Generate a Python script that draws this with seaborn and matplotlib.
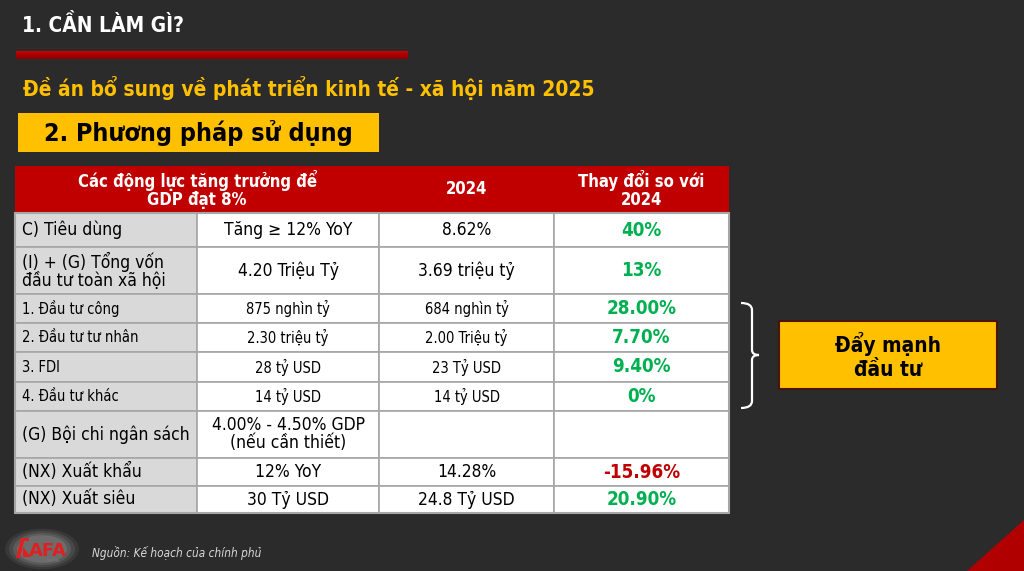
import numpy as np
import matplotlib
matplotlib.use("Agg")
import matplotlib.pyplot as plt
import seaborn as sns
from matplotlib.patches import Rectangle, Polygon, Ellipse
from matplotlib.path import Path
from matplotlib.patches import PathPatch

# dữ liệu bảng
drivers = ["C) Tiêu dùng", "(I) + (G) Tổng vốn\nđầu tư toàn xã hội", "1. Đầu tư công",
           "2. Đầu tư tư nhân", "3. FDI", "4. Đầu tư khác", "(G) Bội chi ngân sách",
           "(NX) Xuất khẩu", "(NX) Xuất siêu"]
targets = ["Tăng ≥ 12% YoY", "4.20 Triệu Tỷ", "875 nghìn tỷ", "2.30 triệu tỷ", "28 tỷ USD",
           "14 tỷ USD", "4.00% - 4.50% GDP\n(nếu cần thiết)", "12% YoY", "30 Tỷ USD"]
values_2024 = ["8.62%", "3.69 triệu tỷ", "684 nghìn tỷ", "2.00 Triệu tỷ", "23 Tỷ USD",
               "14 tỷ USD", "", "14.28%", "24.8 Tỷ USD"]
changes = [40, 13, 28.00, 7.70, 9.40, 0, None, -15.96, 20.90]
change_labels = ["40%", "13%", "28.00%", "7.70%", "9.40%", "0%", "", "-15.96%", "20.90%"]
headers = ["Các động lực tăng trưởng để\nGDP đạt 8%", "2024", "Thay đổi so với\n2024"]
small_rows = [2, 3, 4, 5]

sns.set_theme(style="dark")
plt.rcParams['font.family'] = ['DejaVu Sans']
plt.rcParams['font.stretch'] = 'condensed'

BG = "#2b2b2b"
RED = "#c00000"
YELLOW = "#ffc000"
GREEN = "#00b050"

fig = plt.figure(figsize=(10.24, 5.71), dpi=100, facecolor=BG)
ax = fig.add_axes([0, 0, 1, 1])
ax.set_xlim(0, 1024)
ax.set_ylim(571, 0)
ax.set_facecolor(BG)
ax.axis("off")

# tiêu đề
ax.text(22, 25, "1. CẦN LÀM GÌ?", color="white", fontsize=15, fontweight="bold", va="center")
grad = np.linspace(0, 1, 50).reshape(-1, 1)
red_cmap = matplotlib.colors.LinearSegmentedColormap.from_list("r", ["#c80000", "#8a0000"])
ax.imshow(grad, extent=(16, 408, 59, 51), cmap=red_cmap, aspect="auto", zorder=2)
ax.text(23, 88, "Đề án bổ sung về phát triển kinh tế - xã hội năm 2025", color=YELLOW,
        fontsize=15, fontweight="bold", va="center")
ax.add_patch(Rectangle((18, 113), 361, 39, facecolor=YELLOW, edgecolor="none"))
ax.text(198, 133, "2. Phương pháp sử dụng", color="black", fontsize=18, fontweight="bold",
        va="center", ha="center")

# bảng
cols = [15, 197, 379, 554, 729]
rows = [166, 213, 247, 294, 323, 352, 382, 411, 458, 486, 513]
grid = "#a6a6a6"

ax.add_patch(Rectangle((cols[0], rows[0]), cols[-1] - cols[0], rows[1] - rows[0],
                       facecolor=RED, edgecolor="none"))
hx = [(cols[0] + cols[2]) / 2, (cols[2] + cols[3]) / 2, (cols[3] + cols[4]) / 2]
hy = (rows[0] + rows[1]) / 2
for x, h in zip(hx, headers):
    ax.text(x, hy, h, color="white", fontsize=12, fontweight="bold", ha="center", va="center",
            linespacing=1.0)

for i in range(len(drivers)):
    y0, y1 = rows[i + 1], rows[i + 2]
    yc = (y0 + y1) / 2
    for j in range(4):
        fc = "#d9d9d9" if j == 0 else "white"
        ax.add_patch(Rectangle((cols[j], y0), cols[j + 1] - cols[j], y1 - y0,
                               facecolor=fc, edgecolor=grid, lw=1.2))
    fs = 10.5 if i in small_rows else 12.5
    ax.text(22, yc, drivers[i], fontsize=fs, color="black", va="center", ha="left",
            linespacing=1.0)
    ax.text((cols[1] + cols[2]) / 2, yc, targets[i], fontsize=fs, color="black",
            va="center", ha="center", linespacing=1.0)
    ax.text((cols[2] + cols[3]) / 2, yc, values_2024[i], fontsize=fs, color="black",
            va="center", ha="center")
    if changes[i] is not None:
        c = GREEN if changes[i] >= 0 else RED
        ax.text((cols[3] + cols[4]) / 2, yc, change_labels[i], fontsize=13.5, color=c,
                fontweight="bold", va="center", ha="center")
ax.add_patch(Rectangle((cols[0], rows[1]), cols[-1] - cols[0], rows[-1] - rows[1],
                       facecolor="none", edgecolor=grid, lw=1.5))

# ngoặc nhọn
verts = [(741, 303), (752, 303), (752, 310), (752, 350), (752, 355), (759, 355),
         (752, 355), (752, 360), (752, 401), (752, 408), (741, 408)]
codes = [Path.MOVETO, Path.CURVE3, Path.CURVE3, Path.LINETO, Path.CURVE3, Path.CURVE3,
         Path.CURVE3, Path.CURVE3, Path.LINETO, Path.CURVE3, Path.CURVE3]
ax.add_patch(PathPatch(Path(verts, codes), facecolor="none", edgecolor="white", lw=1.6))

ax.add_patch(Rectangle((779, 321), 218, 68, facecolor=YELLOW, edgecolor="#4a1500", lw=1.5))
ax.text(888, 356, "Đẩy mạnh\nđầu tư", color="black", fontsize=15, fontweight="bold",
        ha="center", va="center", linespacing=1.3)

# chân trang
ax.add_patch(Polygon([(1024, 520), (1024, 571), (967, 571)], facecolor="#b00000", edgecolor="none"))
for w, a in [(74, 0.10), (66, 0.14), (58, 0.18), (50, 0.22)]:
    ax.add_patch(Ellipse((42, 549), w, w * 0.55, facecolor="#b0b0b0", alpha=a, edgecolor="none"))
ax.add_patch(Polygon([(16, 558), (20, 558), (24, 541), (29, 541), (29, 538), (21, 538)],
                     facecolor="#e02020", edgecolor="none"))
ax.add_patch(Polygon([(23, 547), (31, 557), (23, 557)], facecolor="#e02020", edgecolor="none"))
ax.text(29, 551, "AFA", color="#e02020", fontsize=13, fontweight="bold", va="center",
        fontstretch="normal")
ax.text(46, 561, "CAPITAL", color="#777777", fontsize=3, va="center")
ax.text(92, 553, "Nguồn: Kế hoạch của chính phủ", color="#d9d9d9", fontsize=8.5,
        fontstyle="italic", va="center")

fig.savefig("out.png", dpi=100, facecolor=BG)
